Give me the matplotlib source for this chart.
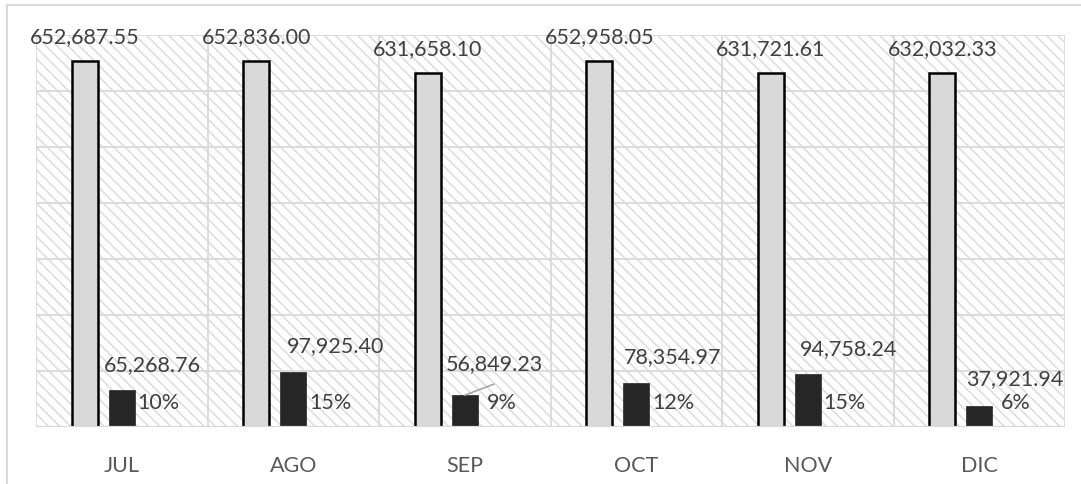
import matplotlib
matplotlib.use("Agg")
import matplotlib.pyplot as plt
from matplotlib.patches import Rectangle
import numpy as np

months = ["JUL", "AGO", "SEP", "OCT", "NOV", "DIC"]
total = [652687.55, 652836.00, 631658.10, 652958.05, 631721.61, 632032.33]
part = [65268.76, 97925.40, 56849.23, 78354.97, 94758.24, 37921.94]
pct = ["10%", "15%", "9%", "12%", "15%", "6%"]

# label layout (pixels)
part_dx = [31, 42, 30, 36, 41, 36]
part_dy = [25, 26, 31, 26, 25, 27]

plt.rcParams['font.family'] = ['Lato', 'DejaVu Sans']
plt.rcParams['hatch.linewidth'] = 1.1
TXT = '#404040'
GRID = '#d9d9d9'

fig = plt.figure(figsize=(10.81, 4.84), dpi=100)
# outer chart border
fig.patches.append(Rectangle((7/1081, -0.1), 1.2, 1 - 5/484 + 0.1, transform=fig.transFigure,
                             facecolor='none', edgecolor=GRID, lw=1.5))
ax = fig.add_axes([36/1081, 1 - 427/484, (1065 - 36)/1081, (427 - 35)/484])

ax.add_patch(Rectangle((0, 0), 1, 1, transform=ax.transAxes, facecolor='white',
                       edgecolor='#dcdcdc', lw=0, hatch='\\\\\\', zorder=0))

x = np.arange(len(months))
w = 26 / 171.5
off = 37 / 171.5

for yv in range(0, 700001, 100000):
    ax.axhline(yv, color=GRID, lw=1.3, zorder=1)
for xv in np.arange(-0.5, 6, 1):
    ax.axvline(xv, color=GRID, lw=1.3, zorder=1)

ax.bar(x - off, total, width=w, color='#d9d9d9', edgecolor='black', lw=1.8, zorder=2)
ax.bar(x, part, width=w, color='#262626', edgecolor='#262626', lw=0.5, zorder=2)
ax.axhline(0, color=GRID, lw=1.6, zorder=3)

fs = 15.5
for i in range(len(months)):
    ax.annotate(f"{total[i]:,.2f}", (x[i] - off, total[i]), xytext=(0, 24),
                textcoords='offset pixels', ha='center', va='center', fontsize=fs, color=TXT)
    ax.annotate(f"{part[i]:,.2f}", (x[i], part[i]), xytext=(part_dx[i], part_dy[i]),
                textcoords='offset pixels', ha='center', va='center', fontsize=fs, color=TXT)
    ax.annotate(pct[i], (x[i] + off, 0), xytext=(0, 24),
                textcoords='offset pixels', ha='center', va='center', fontsize=fs, color=TXT)

# leader line for SEP
ax.annotate("", xy=(x[2], part[2]), xytext=(29, 11), textcoords='offset pixels',
            arrowprops=dict(arrowstyle='-', color='#a6a6a6', lw=1.2, shrinkA=0, shrinkB=0))

ax.set_xlim(-0.5, 5.5)
ax.set_ylim(0, 700000)
ax.set_xticks(x)
ax.set_xticklabels(months, fontsize=fs, color='#595959')
ax.tick_params(axis='x', length=0, pad=21)
ax.set_yticks([])
for s in ax.spines.values():
    s.set_visible(False)

fig.savefig("out.png", dpi=100)
